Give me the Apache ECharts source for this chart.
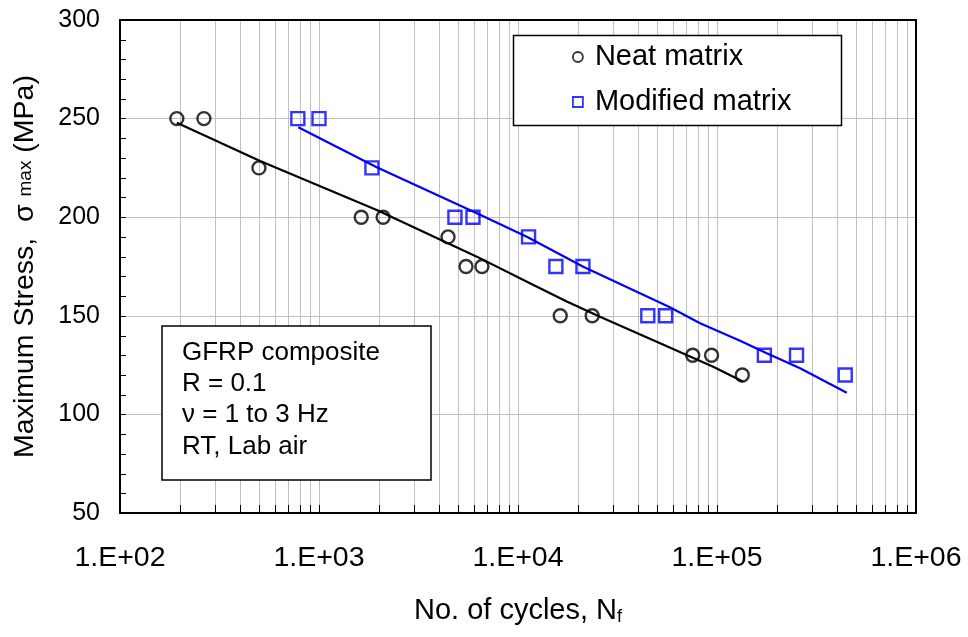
<!DOCTYPE html>
<html>
<head>
<meta charset="utf-8">
<script src="https://cdn.jsdelivr.net/npm/echarts@6/dist/echarts.min.js"></script>
<style>
html,body{margin:0;padding:0;background:#fff;}
#chart{width:968px;height:637px;}
</style>
</head>
<body>
<div id="chart"></div>
<script>
// ---- data ----
const neatN = [193, 264, 499, 1630, 2100, 4450, 5480, 6590, 16300, 23600, 75500, 93900, 134000];
const neatS = [250, 250, 225, 200, 200, 190, 175, 175, 150, 150, 130, 130, 120];
const modN = [783, 1000, 1845, 4820, 5940, 11300, 15500, 21200, 44900, 55200, 173000, 251000, 441000];
const modS = [250, 250, 225, 200, 200, 190, 175, 175, 150, 150, 130, 130, 120];
// fitted trend lines
const neatFitN = [193, 506, 1950, 6210, 11480, 17580, 25830, 51750, 95700, 135500];
const neatFitS = [247.9, 228.5, 203.7, 180.0, 166.5, 157.2, 149.5, 136.1, 124.2, 116.6];
const modFitN = [787, 1950, 6210, 11070, 21280, 41000, 58000, 82200, 130600, 177800, 261500, 448800];
const modFitS = [245.6, 225.3, 202.0, 190.1, 174.9, 161.4, 154.3, 146.2, 137.4, 131.0, 123.4, 111.0];
// axis ticks
const xMin = 100, xMax = 1000000;
const yMin = 50, yMax = 300, yStep = 50;
const xMinorTicks = [200,300,400,500,600,700,800,900,
  2000,3000,4000,5000,6000,7000,8000,9000,
  20000,30000,40000,50000,60000,70000,80000,90000,
  200000,300000,400000,500000,600000,700000,800000,900000];
const yMinorTicks = [60,70,80,90,110,120,130,140,160,170,180,190,210,220,230,240,260,270,280,290];
const seriesNames = ['Neat matrix', 'Modified matrix'];
const infoLines = ['GFRP composite', 'R = 0.1', '\u03bd = 1 to 3 Hz', 'RT, Lab air'];

const FONT = "'Liberation Sans', Arial, sans-serif";
const zip = (a, b) => a.map((v, i) => [v, b[i]]);

const chart = echarts.init(document.getElementById('chart'), null, {renderer: 'canvas'});

const option = {
  backgroundColor: '#fff',
  animation: false,
  textStyle: {fontFamily: FONT},
  grid: {left: 120, top: 20, right: 52, bottom: 124, show: true, borderColor: '#000', borderWidth: 2, backgroundColor: 'transparent', z: 5},
  xAxis: {
    type: 'log', logBase: 10, min: xMin, max: xMax,
    name: '{a|No. of cycles, N}{s|f}',
    nameLocation: 'middle', nameGap: 83,
    nameTextStyle: {rich: {
      a: {fontSize: 29, fontFamily: FONT, color: '#000'},
      s: {fontSize: 18, fontFamily: FONT, color: '#000', verticalAlign: 'bottom', padding: [12, 0, 0, 0]}
    }},
    axisLine: {show: true, lineStyle: {color: '#000', width: 2}},
    axisTick: {show: true, inside: true, length: 8, lineStyle: {color: '#000'}},
    axisLabel: {
      fontSize: 28.5, color: '#000', fontFamily: FONT, margin: 31,
      formatter: v => '1.E+' + String(Math.round(Math.log10(v))).padStart(2, '0')
    },
    splitLine: {show: true, lineStyle: {color: '#c0c0c0', width: 1}}
  },
  yAxis: {
    type: 'value', min: yMin, max: yMax, interval: yStep,
    name: '{a|Maximum Stress,  \u03c3 }{b|max}{a| (MPa)}',
    nameLocation: 'middle', nameGap: 80,
    nameTextStyle: {rich: {
      a: {fontSize: 28.5, fontFamily: FONT, color: '#000'},
      b: {fontSize: 19, fontFamily: FONT, color: '#000'}
    }},
    axisLine: {show: true, lineStyle: {color: '#000', width: 2}},
    axisTick: {show: true, inside: true, length: 6, lineStyle: {color: '#000'}},
    axisLabel: {fontSize: 25, color: '#000', fontFamily: FONT, margin: 20},
    splitLine: {show: true, lineStyle: {color: '#c0c0c0', width: 1}}
  },
  legend: {
    orient: 'vertical', left: 572, top: 40, padding: 0, itemGap: 11,
    itemWidth: 10, itemHeight: 10, z: 10,
    textStyle: {fontSize: 29, color: '#000', fontFamily: FONT, lineHeight: 34, padding: [0, 0, 0, 7]},
    data: [
      {name: seriesNames[0], icon: 'circle', itemStyle: {color: '#fff', borderColor: '#000', borderWidth: 1.8}},
      {name: seriesNames[1], icon: 'rect', itemStyle: {color: '#fff', borderColor: '#0000ff', borderWidth: 1.8}}
    ]
  },
  graphic: [
    {type: 'rect', z: 8, shape: {x: 513.5, y: 35.5, width: 328, height: 90},
     style: {fill: '#fff', stroke: '#000', lineWidth: 1.5}},
    {type: 'rect', z: 8, shape: {x: 162, y: 326, width: 269, height: 154},
     style: {fill: '#fff', stroke: '#000', lineWidth: 1.5}},
    {type: 'text', z: 9, left: 182, top: 337,
     style: {text: infoLines.join('\n'), font: "26px 'Liberation Sans', Arial, sans-serif", fill: '#000', lineHeight: 31.3}}
  ],
  series: [
    {
      type: 'custom', name: 'minorgrid', silent: true, z: 1,
      data: xMinorTicks.map(v => [v, yMin]),
      encode: {x: 0, y: 1},
      renderItem: (params, api) => {
        const v = api.value(0);
        const pb = api.coord([v, yMin]);
        const pt = api.coord([v, yMax]);
        const x = Math.round(pb[0]) + 0.5;
        return {type: 'group', children: [
          {type: 'line', shape: {x1: x, y1: pt[1], x2: x, y2: pb[1]}, style: {stroke: '#c0c0c0', lineWidth: 1}},
          {type: 'line', shape: {x1: x, y1: pb[1] - 8, x2: x, y2: pb[1]}, style: {stroke: '#000', lineWidth: 1}}
        ]};
      }
    },
    {
      type: 'custom', name: 'yminorticks', silent: true, z: 6, clip: false,
      data: yMinorTicks.map(v => [xMin, v]),
      encode: {x: 0, y: 1},
      renderItem: (params, api) => {
        const p = api.coord([api.value(0), api.value(1)]);
        const y = Math.round(p[1]) + 0.5;
        return {type: 'line', shape: {x1: p[0], y1: y, x2: p[0] + 6, y2: y}, style: {stroke: '#000', lineWidth: 1}};
      }
    },
    {
      type: 'line', name: 'neatFit', data: zip(neatFitN, neatFitS), showSymbol: false, symbol: 'none',
      lineStyle: {color: '#000', width: 2.2}, z: 3, silent: true
    },
    {
      type: 'line', name: 'modFit', data: zip(modFitN, modFitS), showSymbol: false, symbol: 'none',
      lineStyle: {color: '#0000ff', width: 2.2}, z: 3, silent: true
    },
    {
      type: 'scatter', name: seriesNames[0], data: zip(neatN, neatS),
      symbol: 'circle', symbolSize: 13, z: 4,
      itemStyle: {color: 'rgba(255,255,255,0)', borderColor: '#000', borderWidth: 2.4}
    },
    {
      type: 'scatter', name: seriesNames[1], data: zip(modN, modS),
      symbol: 'rect', symbolSize: 13, z: 4,
      itemStyle: {color: 'rgba(255,255,255,0)', borderColor: '#0000ff', borderWidth: 2.4}
    }
  ]
};
chart.setOption(option);
</script>
</body>
</html>
